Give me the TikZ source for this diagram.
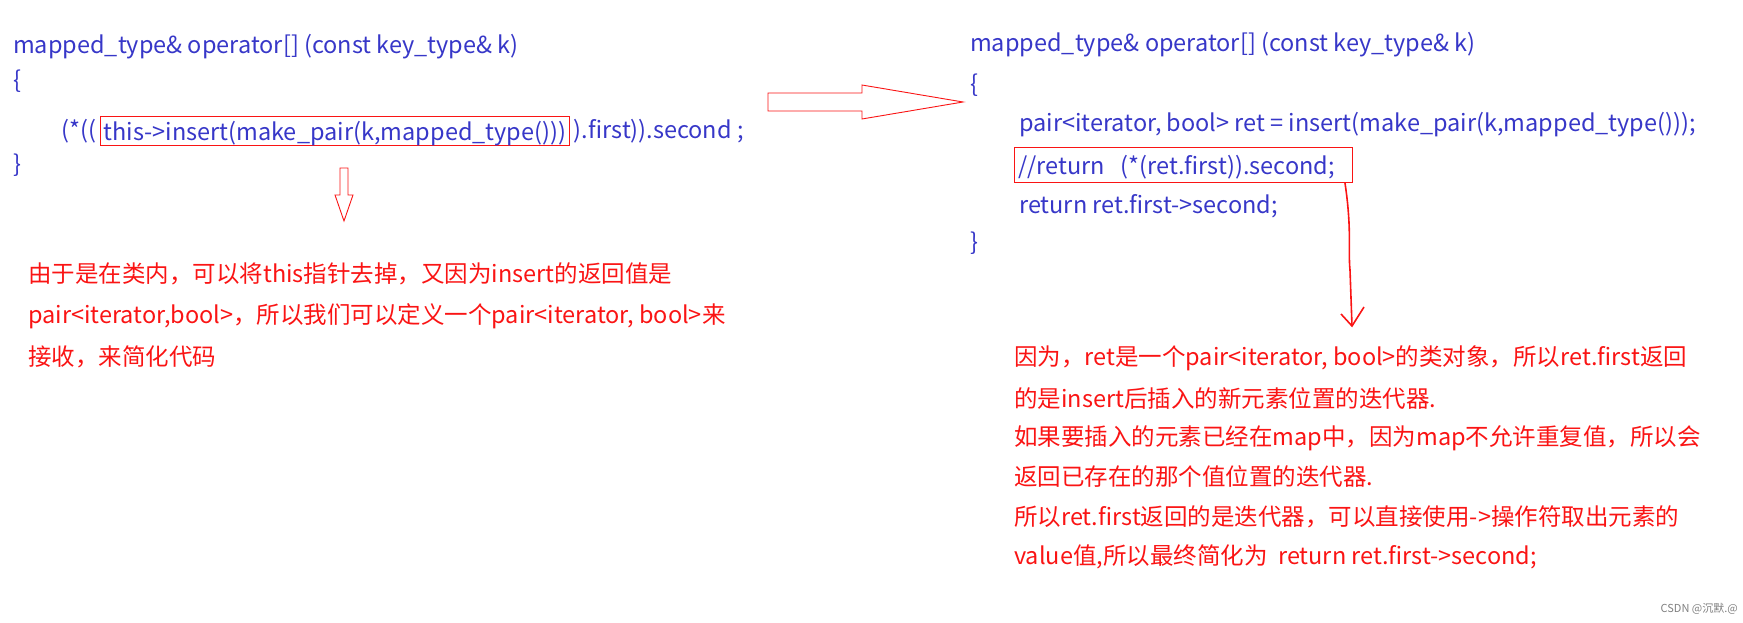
\documentclass[tikz,border=0pt]{standalone}
\usepackage{fontspec}
\setmainfont{Noto Sans CJK SC}
\usetikzlibrary{positioning,calc,arrows.meta}
\definecolor{codeblue}{RGB}{55,55,200}
\definecolor{notered}{RGB}{250,20,20}

\begin{document}
\begin{tikzpicture}
  [
    x = 1pt, y = -1pt,
    code/.style = {
      text = codeblue,
      font = \fontsize{23.5}{26}\selectfont,
      inner sep = 0pt,
      anchor = west,
    },
    note/.style = {
      text = notered,
      font = \fontsize{23.5}{26}\selectfont,
      inner sep = 0pt,
      anchor = west,
    },
    redbox/.style = {
      draw = notered,
      line width = 1pt,
      inner xsep = 3pt,
      inner ysep = 5pt,
      text depth = 0pt,
    },
    hollow/.style = {
      draw = notered,
      fill = white,
      line width = 0.9pt,
    },
  ]

  \useasboundingbox (0,0) rectangle (1743,623);

  % left version
  \node (lhead) [code] at (13, 47) {mapped\_type\& operator[] (const key\_type\& k)};
  \node (lopen) [code] at (13, 81) {\{};
  \node (lstart) [code] at (61, 131) {(*((};
  \node (lcall) [code, redbox, right = 4pt of lstart.east, anchor = west] {this->insert(make\_pair(k,mapped\_type()))};
  \node (lend) [code, right = 4pt of lcall.east, anchor = west] {).first)).second ;};
  \node (lclose) [code] at (13, 165) {\}};

  \node (lnote1) [note] at (28, 274) {由于是在类内，可以将this指针去掉，又因为insert的返回值是};
  \node (lnote2) [note] at (28, 316) {pair<iterator,bool>，所以我们可以定义一个pair<iterator, bool>来};
  \node (lnote3) [note] at (28, 357) {接收，来简化代码};

  \draw [hollow] (340, 168) -- (348, 168) -- (348, 195) -- (353, 195) -- (344, 221)
    -- (335, 195) -- (340, 195) -- cycle;
  \draw [hollow] (768, 93) -- (862, 93) -- (862, 85) -- (963, 102) -- (862, 119)
    -- (862, 111) -- (768, 111) -- cycle;

  % right version
  \node (rhead) [code] at (970, 45) {mapped\_type\& operator[] (const key\_type\& k)};
  \node (ropen) [code] at (970, 85) {\{};
  \node (rpair) [code] at (1019, 125) {pair<iterator, bool> ret = insert(make\_pair(k,mapped\_type()));};
  \node (rold) [code, redbox, inner xsep = 4pt, text width = 330pt, inner ysep = 8pt] at (1014, 165) {//return\ \ (*(ret.first)).second;};
  \node (rret) [code] at (1019, 206) {return ret.first->second;};
  \node (rclose) [code] at (970, 243) {\}};

  \node (rnote1) [note] at (1014, 358) {因为，ret是一个pair<iterator, bool>的类对象，所以ret.first返回};
  \node (rnote2) [note] at (1014, 399) {的是insert后插入的新元素位置的迭代器.};
  \node (rnote3) [note] at (1014, 438) {如果要插入的元素已经在map中，因为map不允许重复值，所以会};
  \node (rnote4) [note] at (1014, 477) {返回已存在的那个值位置的迭代器.};
  \node (rnote5) [note] at (1014, 517) {所以ret.first返回的是迭代器，可以直接使用->操作符取出元素的};
  \node (rnote6) [note] at (1014, 557) {value值,所以最终简化为\ \ return ret.first->second;};

  \coordinate (bend) at ([xshift=-8pt] rold.south east);
  \coordinate (tip) at (1352, 326);
  \draw [notered, line width = 1.6pt] (bend) .. controls (1352, 230) and (1348, 250) .. (1350, 270) -- (tip);
  \draw [notered, line width = 1.6pt] (1341, 314) -- (tip) -- (1364, 307);

  \node (mark) [text = gray, font = \fontsize{11}{12}\selectfont, anchor = east, inner sep = 0pt] at (1738, 609) {CSDN @沉默.@};
\end{tikzpicture}
\end{document}
